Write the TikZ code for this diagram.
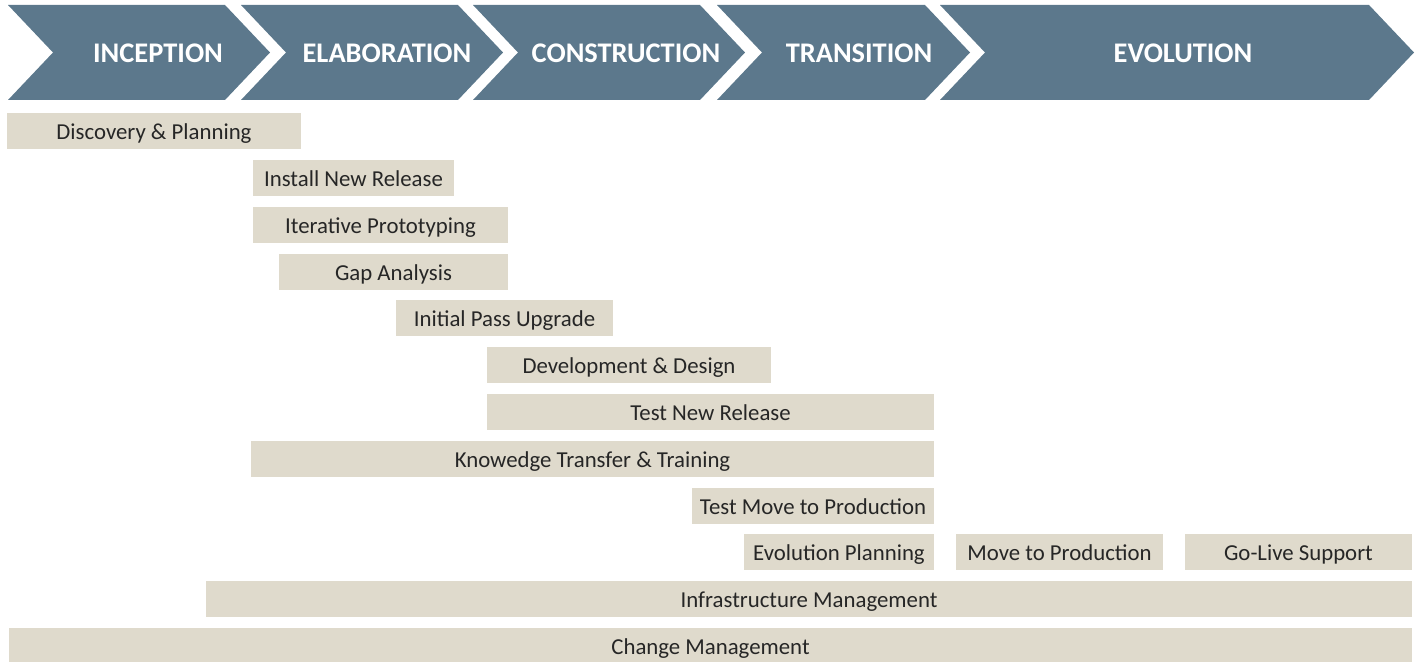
\documentclass[tikz,border=0pt]{standalone}
\usepackage{fontspec}
\setmainfont{Carlito}
\usepackage{tikz}

\definecolor{phaseblue}{HTML}{5C788C}
\definecolor{taskbeige}{HTML}{DFDACC}
\definecolor{tasktext}{HTML}{262626}

\tikzset{
  phase/.style={fill=phaseblue, draw=none},
  phaselabel/.style={anchor=base, text=white, font=\fontsize{14.2}{17}\selectfont\bfseries, inner sep=0pt},
  task/.style={fill=taskbeige, draw=none},
  tasklabel/.style={anchor=base, text=tasktext, font=\fontsize{11.4}{14}\selectfont, inner sep=0pt}
}

\begin{document}
\begin{tikzpicture}[x=0.5pt,y=-0.5pt]
  \useasboundingbox (0,0) rectangle (1421,662);
  \clip (0,0) rectangle (1421,662);

  % phases
  \fill[phase] (8,5) -- (225,5) -- (270,52.5) -- (225,100) -- (8,100) -- (53,52.5) -- cycle;
  \node[phaselabel] (inception) at (158,63) {INCEPTION};
  \fill[phase] (241,5) -- (458,5) -- (503,52.5) -- (458,100) -- (241,100) -- (286,52.5) -- cycle;
  \node[phaselabel] (elaboration) at (387,63) {ELABORATION};
  \fill[phase] (473,5) -- (700,5) -- (745,52.5) -- (700,100) -- (473,100) -- (518,52.5) -- cycle;
  \node[phaselabel] (construction) at (626,63) {CONSTRUCTION};
  \fill[phase] (717,5) -- (925,5) -- (970,52.5) -- (925,100) -- (717,100) -- (762,52.5) -- cycle;
  \node[phaselabel] (transition) at (859,63) {TRANSITION};
  \fill[phase] (940,5) -- (1369,5) -- (1414,52.5) -- (1369,100) -- (940,100) -- (985,52.5) -- cycle;
  \node[phaselabel] (evolution) at (1183,63) {EVOLUTION};

  % tasks
  \fill[task] (7,113) rectangle (301,149);
  \node[tasklabel] (discovery) at (154,140) {Discovery \& Planning};
  \fill[task] (253,160) rectangle (454,196);
  \node[tasklabel] (install) at (353.5,187) {Install New Release};
  \fill[task] (253,207) rectangle (508,243);
  \node[tasklabel] (prototyping) at (380.5,234) {Iterative Prototyping};
  \fill[task] (279,254) rectangle (508,290);
  \node[tasklabel] (gap) at (393.5,281) {Gap Analysis};
  \fill[task] (396,300) rectangle (613,336);
  \node[tasklabel] (initial) at (504.5,327) {Initial Pass Upgrade};
  \fill[task] (487,347) rectangle (771,383);
  \node[tasklabel] (design) at (629,374) {Development \& Design};
  \fill[task] (487,394) rectangle (934,430);
  \node[tasklabel] (testnew) at (710.5,421) {Test New Release};
  \fill[task] (251,441) rectangle (934,477);
  \node[tasklabel] (transfer) at (592.5,468) {Knowedge Transfer \& Training};
  \fill[task] (692,488) rectangle (934,524);
  \node[tasklabel] (testmove) at (813,515) {Test Move to Production};
  \fill[task] (744,534) rectangle (934,570);
  \node[tasklabel] (planning) at (839,561) {Evolution Planning};
  \fill[task] (956,534) rectangle (1163,570);
  \node[tasklabel] (move) at (1059.5,561) {Move to Production};
  \fill[task] (1185,534) rectangle (1412,570);
  \node[tasklabel] (golive) at (1298.5,561) {Go-Live Support};
  \fill[task] (206,581) rectangle (1412,617);
  \node[tasklabel] (infra) at (809,608) {Infrastructure Management};
  \fill[task] (9,628) rectangle (1412,664);
  \node[tasklabel] (change) at (710.5,655) {Change Management};
\end{tikzpicture}
\end{document}
